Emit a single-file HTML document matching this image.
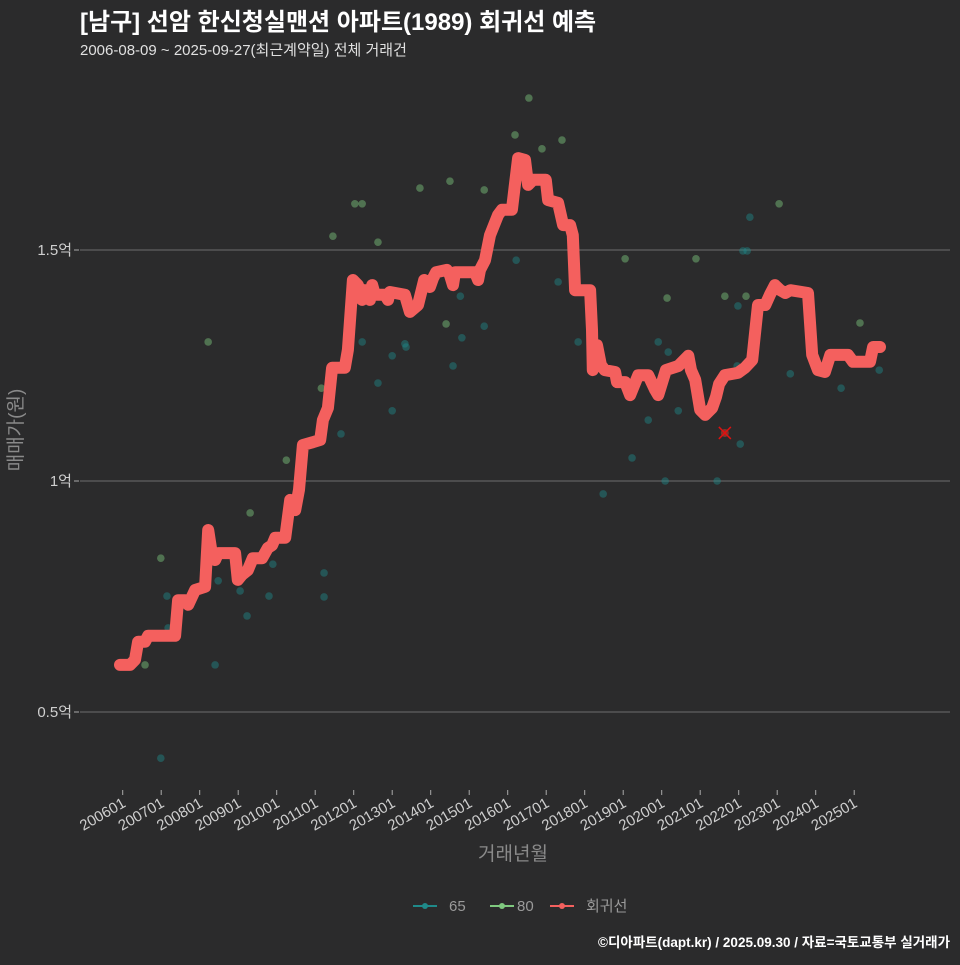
<!DOCTYPE html>
<html><head><meta charset="utf-8"><style>
html,body{margin:0;padding:0;background:#2b2b2c;}
svg text{font-family:"Liberation Sans","Noto Sans CJK KR",sans-serif;}
</style></head><body>
<svg id="chart" width="960" height="960" xmlns="http://www.w3.org/2000/svg">
<rect width="960" height="960" fill="#2b2b2c"/>
<text x="80" y="30" fill="#ffffff" font-size="24" font-weight="bold">[남구] 선암 한신청실맨션 아파트(1989) 회귀선 예측</text>
<text x="80" y="55" fill="#e0e0e0" font-size="15">2006-08-09 ~ 2025-09-27(최근계약일) 전체 거래건</text>
<g id="grid"></g><g id="dots"></g><g id="line"></g><g id="axes"></g>
<text x="513" y="860" fill="#8a8a8a" font-size="19" text-anchor="middle">거래년월</text>
<text transform="translate(22,430) rotate(-90)" fill="#8a8a8a" font-size="19" text-anchor="middle">매매가(원)</text>
<g font-size="15" fill="#9a9a9a">
<g><line x1="413" y1="906" x2="437" y2="906" stroke="#1f8a8a" stroke-width="2"/><circle cx="425" cy="906" r="3" fill="#1f8a8a"/><text x="449" y="911">65</text></g>
<g><line x1="490" y1="906" x2="514" y2="906" stroke="#7fc97f" stroke-width="2"/><circle cx="502" cy="906" r="3" fill="#7fc97f"/><text x="517" y="911">80</text></g>
<g><line x1="550" y1="906" x2="574" y2="906" stroke="#f4605e" stroke-width="2"/><circle cx="562" cy="906" r="3" fill="#f4605e"/><text x="586" y="911">회귀선</text></g>
</g>
<text x="950" y="947" fill="#ffffff" font-size="13.5" font-weight="bold" text-anchor="end">©디아파트(dapt.kr) / 2025.09.30 / 자료=국토교통부 실거래가</text>
</svg>
<script>
const yTicks=[0.5,1,1.5];
const yTickLabels=["0.5억","1억","1.5억"];
const xTickLabels=["200601","200701","200801","200901","201001","201101","201201","201301","201401","201501","201601","201701","201801","201901","202001","202101","202201","202301","202401","202501"];
const lineYears=[2005.93,2006.19,2006.32,2006.40,2006.58,2006.66,2007.36,2007.44,2007.62,2007.70,2007.88,2008.14,2008.22,2008.32,2008.40,2008.48,2008.92,2008.99,2009.10,2009.25,2009.38,2009.62,2009.77,2009.88,2009.96,2010.22,2010.35,2010.48,2010.58,2010.68,2010.94,2011.13,2011.20,2011.33,2011.44,2011.77,2011.85,2011.98,2012.11,2012.22,2012.29,2012.42,2012.48,2012.55,2012.81,2012.89,2012.94,2013.33,2013.46,2013.67,2013.83,2013.98,2014.06,2014.14,2014.42,2014.50,2014.58,2014.63,2015.15,2015.23,2015.28,2015.41,2015.54,2015.75,2015.85,2016.11,2016.27,2016.45,2016.53,2016.66,2016.99,2017.05,2017.31,2017.44,2017.62,2017.69,2017.75,2018.14,2018.19,2018.21,2018.32,2018.42,2018.52,2018.79,2018.84,2019.05,2019.18,2019.39,2019.65,2019.83,2019.91,2020.11,2020.43,2020.69,2020.76,2020.87,2021.00,2021.13,2021.31,2021.41,2021.49,2021.64,2021.98,2022.16,2022.35,2022.50,2022.69,2022.81,2022.94,2023.08,2023.21,2023.34,2023.80,2023.91,2024.06,2024.24,2024.38,2024.84,2024.97,2025.41,2025.49,2025.67];
const lineValues=[0.602,0.602,0.613,0.652,0.652,0.665,0.665,0.742,0.742,0.732,0.764,0.771,0.894,0.840,0.829,0.844,0.844,0.786,0.797,0.807,0.833,0.833,0.855,0.861,0.877,0.877,0.959,0.937,0.981,1.078,1.084,1.089,1.132,1.158,1.245,1.245,1.284,1.435,1.424,1.392,1.413,1.392,1.424,1.403,1.403,1.392,1.409,1.403,1.366,1.381,1.435,1.420,1.439,1.452,1.457,1.446,1.424,1.452,1.452,1.435,1.457,1.478,1.532,1.576,1.587,1.587,1.699,1.695,1.641,1.652,1.652,1.608,1.602,1.554,1.554,1.532,1.413,1.413,1.327,1.240,1.294,1.251,1.240,1.236,1.214,1.214,1.186,1.229,1.229,1.197,1.186,1.240,1.249,1.271,1.240,1.219,1.154,1.143,1.158,1.182,1.210,1.229,1.234,1.245,1.262,1.381,1.381,1.403,1.424,1.413,1.407,1.413,1.407,1.273,1.240,1.236,1.273,1.273,1.258,1.258,1.290,1.290];
const g80Years=[2006.58,2006.99,2008.22,2009.31,2010.25,2011.46,2012.03,2012.22,2011.16,2012.63,2013.72,2014.40,2014.50,2015.39,2016.19,2016.55,2016.89,2017.41,2019.05,2020.14,2020.89,2021.64,2022.19,2023.05,2025.15];
const g80Values=[0.602,0.833,1.301,0.931,1.045,1.530,1.600,1.600,1.201,1.517,1.634,1.340,1.649,1.630,1.749,1.829,1.719,1.738,1.481,1.396,1.481,1.400,1.400,1.600,1.342];
const g65Years=[2006.99,2007.15,2007.18,2008.40,2008.48,2009.05,2009.23,2009.80,2009.90,2011.23,2011.23,2011.67,2012.22,2012.63,2013.00,2013.00,2013.33,2013.36,2014.58,2014.81,2014.77,2015.39,2016.22,2017.31,2017.83,2018.48,2019.23,2019.65,2019.91,2020.09,2020.17,2020.43,2021.44,2021.98,2022.04,2022.11,2022.22,2022.29,2021.96,2023.34,2024.66,2025.65];
const g65Values=[0.400,0.751,0.682,0.602,0.784,0.762,0.708,0.751,0.820,0.801,0.749,1.102,1.301,1.212,1.152,1.271,1.297,1.290,1.249,1.310,1.400,1.335,1.478,1.431,1.301,0.972,1.050,1.132,1.301,1.000,1.279,1.152,1.000,1.379,1.080,1.498,1.498,1.571,1.249,1.232,1.201,1.240];
const markerYear=[2021.64];
const markerValue=[1.104];

const NS="http://www.w3.org/2000/svg";
function xS(yr){return 122.7+(yr-2006)*38.5;}
function yS(v){return 481-(v-1)*462;}
function mk(tag,attrs,parent){const e=document.createElementNS(NS,tag);for(const k in attrs)e.setAttribute(k,attrs[k]);parent.appendChild(e);return e;}
const grid=document.getElementById('grid'),axes=document.getElementById('axes'),dots=document.getElementById('dots'),lineG=document.getElementById('line');
yTicks.forEach((t,i)=>{
  const gl=mk('line',{x1:80,x2:950,y1:yS(t),y2:yS(t),stroke:'#6e6e6e','stroke-width':1},grid);
  
  
  mk('line',{x1:74,x2:79,y1:yS(t),y2:yS(t),stroke:'#aaa'},axes);
  const tx=mk('text',{x:72,y:yS(t)+5,fill:'#cfcfcf','font-size':15,'text-anchor':'end'},axes);
  tx.textContent=yTickLabels[i];
  
  
});
xTickLabels.forEach((l,i)=>{
  const x=xS(2006+i);
  mk('line',{x1:x,x2:x,y1:790,y2:795,stroke:'#aaa'},axes);
  const tx=mk('text',{x:0,y:0,fill:'#cfcfcf','font-size':15,'text-anchor':'end',transform:`translate(${x+4},${806}) rotate(-30)`},axes);
  tx.textContent=l;
  
  
});
g65Years.forEach((yr,i)=>{
  const c=mk('circle',{cx:xS(yr),cy:yS(g65Values[i]),r:3.8,fill:'#1f8a8a','fill-opacity':0.45},dots);
  
  
});
g80Years.forEach((yr,i)=>{
  const c=mk('circle',{cx:xS(yr),cy:yS(g80Values[i]),r:3.8,fill:'#7fc97f','fill-opacity':0.45},dots);
  
  
});
const pts=lineYears.map((yr,i)=>xS(yr).toFixed(1)+','+yS(lineValues[i]).toFixed(1)).join(' ');
const pl=mk('polyline',{points:pts,fill:'none',stroke:'#f4605e','stroke-width':12,'stroke-linejoin':'round','stroke-linecap':'round'},lineG);


markerYear.forEach((yr,i)=>{
  const mx=xS(yr),my=yS(markerValue[i]);
  const g=mk('g',{},lineG);
  
  
  mk('circle',{cx:mx,cy:my,r:4,fill:'#c0392b','fill-opacity':0.6},g);
  mk('line',{x1:mx-6,y1:my-6,x2:mx+6,y2:my+6,stroke:'#e01010','stroke-width':1.5},g);
  mk('line',{x1:mx-6,y1:my+6,x2:mx+6,y2:my-6,stroke:'#e01010','stroke-width':1.5},g);
});
</script>
</body></html>
